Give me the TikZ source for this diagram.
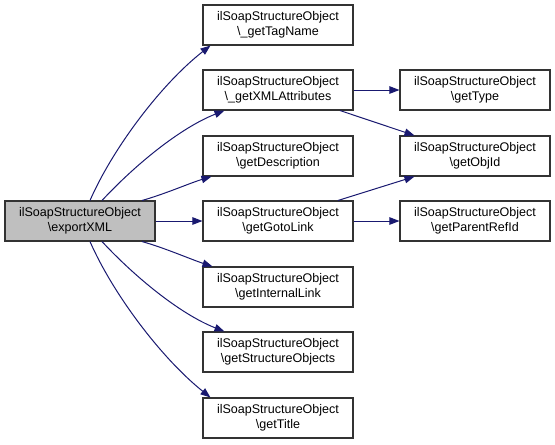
\documentclass[tikz,border=0pt]{standalone}
\usepackage{fontspec}
\setmainfont{Liberation Sans}
\usetikzlibrary{arrows.meta,calc}
\definecolor{edgeblue}{HTML}{191970}
\definecolor{boxgray}{HTML}{BFBFBF}
\definecolor{boxline}{HTML}{333333}
\begin{document}
\begin{tikzpicture}[x=0.75pt,y=-0.75pt,
  fn/.style={draw=boxline,line width=0.8pt,fill=white,minimum width=112.5pt,minimum height=30pt,
    inner sep=0pt,align=center,font=\fontsize{9.4}{11.2}\selectfont},
  cur/.style={fn,fill=boxgray},
  e/.style={draw=edgeblue,line width=0.75pt,-{Triangle[length=7.5pt,width=5.6pt]}}]
\useasboundingbox (0,0) rectangle (555,444);
\node[cur] (ex) at (80,221) {ilSoapStructureObject\\\textbackslash exportXML};
\node[fn] (tn) at (278,25) {ilSoapStructureObject\\\textbackslash\_getTagName};
\node[fn] (xa) at (278,90) {ilSoapStructureObject\\\textbackslash\_getXMLAttributes};
\node[fn] (gd) at (278,156) {ilSoapStructureObject\\\textbackslash getDescription};
\node[fn] (gg) at (278,221) {ilSoapStructureObject\\\textbackslash getGotoLink};
\node[fn] (il) at (278,287) {ilSoapStructureObject\\\textbackslash getInternalLink};
\node[fn] (so) at (278,352) {ilSoapStructureObject\\\textbackslash getStructureObjects};
\node[fn] (ti) at (278,418) {ilSoapStructureObject\\\textbackslash getTitle};
\node[fn] (ty) at (475,90) {ilSoapStructureObject\\\textbackslash getType};
\node[fn] (oi) at (475,156) {ilSoapStructureObject\\\textbackslash getObjId};
\node[fn] (pr) at (475,221) {ilSoapStructureObject\\\textbackslash getParentRefId};
% edges from exportXML
\draw[e] ($(ex.north)+(10,0)$) .. controls (112,150) and (160,85) .. ($(tn.south west)+(8,0)$);
\draw[e] ($(ex.north)+(22,0)$) .. controls (135,165) and (180,128) .. ($(xa.south west)+(22,0)$);
\draw[e] ($(ex.north)+(62,0)$) .. controls (165,194) and (190,183) .. ($(gd.south west)+(9,0)$);
\draw[e] (ex.east) -- (gg.west);
\draw[e] ($(ex.south)+(62,0)$) .. controls (165,248) and (190,259) .. ($(il.north west)+(10,0)$);
\draw[e] ($(ex.south)+(22,0)$) .. controls (135,277) and (180,314) .. ($(so.north west)+(22,0)$);
\draw[e] ($(ex.south)+(10,0)$) .. controls (112,292) and (160,357) .. ($(ti.north west)+(8,0)$);
% second level
\draw[e] (xa.east) -- (ty.west);
\draw[e] ($(xa.south)+(62,0)$) -- ($(oi.north west)+(15,0)$);
\draw[e] ($(gg.north)+(60,0)$) -- ($(oi.south west)+(15,0)$);
\draw[e] (gg.east) -- (pr.west);
\end{tikzpicture}
\end{document}
